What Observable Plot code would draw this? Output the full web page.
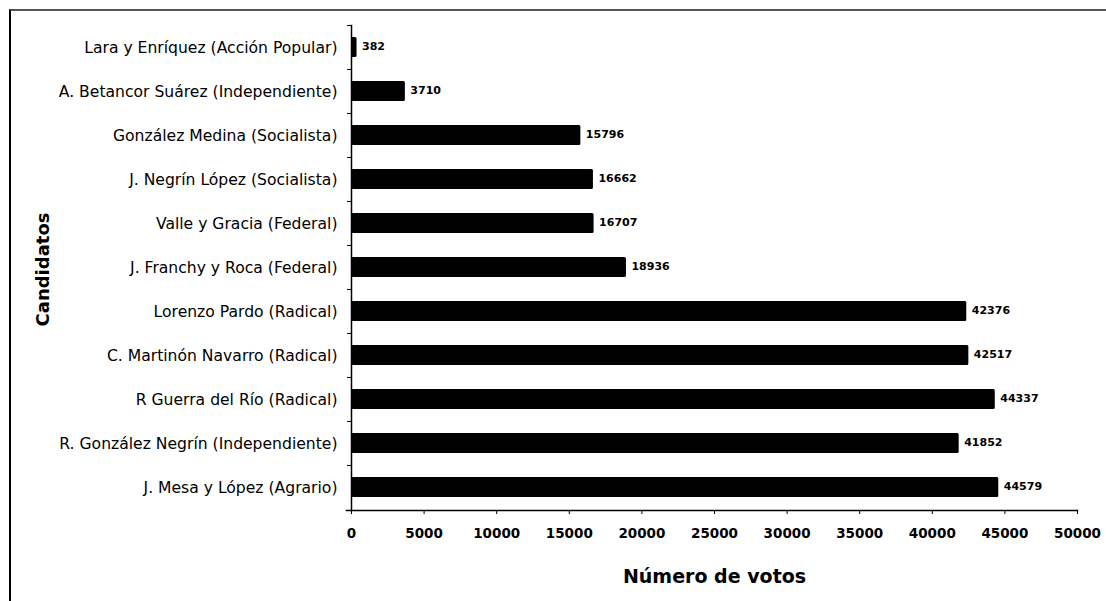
<!DOCTYPE html>
<html>
<head>
<meta charset="utf-8">
<script src="https://cdn.jsdelivr.net/npm/d3@7"></script>
<script src="https://cdn.jsdelivr.net/npm/@observablehq/plot@0.6"></script>
<style>
  html, body { margin: 0; padding: 0; background: #fff; }
  #wrap { position: relative; width: 1106px; height: 601px; overflow: hidden; }
  #wrap svg { position: absolute; left: 0; top: 0; }
  /* page frame: top and left edges */
  #edge { position: absolute; left: 9px; top: 9px; right: -4px; bottom: -4px;
          border-top: 2px solid #555; border-left: 2px solid #000; pointer-events: none; }
</style>
</head>
<body>
<div id="wrap"><div id="edge"></div></div>
<script>
// Candidates, top to bottom
const candidates = [
  "Lara y Enríquez (Acción Popular)",
  "A. Betancor Suárez (Independiente)",
  "González Medina (Socialista)",
  "J. Negrín López (Socialista)",
  "Valle y Gracia (Federal)",
  "J. Franchy y Roca (Federal)",
  "Lorenzo Pardo (Radical)",
  "C. Martinón Navarro (Radical)",
  "R Guerra del Río (Radical)",
  "R. González Negrín (Independiente)",
  "J. Mesa y López (Agrario)"
];
// Votes received by each candidate
const votes = [382, 3710, 15796, 16662, 16707, 18936, 42376, 42517, 44337, 41852, 44579];
// Horizontal axis ticks
const xTicks = [0, 5000, 10000, 15000, 20000, 25000, 30000, 35000, 40000, 45000, 50000];

const data = candidates.map((name, i) => ({name, votes: votes[i]}));

const W = 1106, H = 601;
const mTop = 25, mBottom = 91, mLeft = 351, mRight = 29;
const step = (H - mTop - mBottom) / candidates.length;
const pad = 0.54;
const font = "DejaVu Sans";

const chart = Plot.plot({
  width: W,
  height: H,
  marginTop: mTop,
  marginBottom: mBottom,
  marginLeft: mLeft,
  marginRight: mRight,
  style: {fontFamily: font, color: "#000", background: "transparent"},
  x: {domain: [0, 50000], axis: null},
  y: {domain: candidates, paddingInner: pad, paddingOuter: pad / 2, axis: null},
  marks: [
    Plot.barX(data, {x: "votes", y: "name", fill: "#000", rx: 1.5}),
    Plot.text(data, {
      x: "votes", y: "name", text: d => String(d.votes),
      dx: 5, dy: -1, textAnchor: "start",
      fontSize: 11, fontWeight: "bold", fill: "#000"
    }),
    // category labels
    Plot.axisY({
      anchor: "left", tickSize: 0, tickPadding: 14,
      fontSize: 15.6, fill: "#000", label: null
    }),
    // tick marks between categories
    Plot.axisY({
      anchor: "left", tickSize: 4, dy: -step / 2,
      tickFormat: () => "", stroke: "#000", label: null
    }),
    Plot.frame({anchor: "left", stroke: "#000", strokeWidth: 1.5}),
    Plot.frame({anchor: "bottom", stroke: "#000", strokeWidth: 1.5, insetLeft: -5}),
    Plot.axisX({
      anchor: "bottom", ticks: xTicks, tickSize: 4, tickPadding: 14,
      tickFormat: d => String(d), fontSize: 13.5, fontWeight: "bold",
      stroke: "#000", fill: "#000", label: null
    }),
    Plot.text(["Número de votos"], {
      frameAnchor: "bottom", dy: 66, text: d => d, textAnchor: "middle",
      fontSize: 19, fontWeight: "bold", fill: "#000", lineAnchor: "middle"
    }),
    Plot.text(["Candidatos"], {
      frameAnchor: "left", dx: -308, dy: 1.5, rotate: -90, text: d => d, textAnchor: "middle",
      fontSize: 18, fontWeight: "bold", fill: "#000", lineAnchor: "middle"
    })
  ]
});

document.getElementById("wrap").insertBefore(chart, document.getElementById("edge"));
</script>
</body>
</html>
